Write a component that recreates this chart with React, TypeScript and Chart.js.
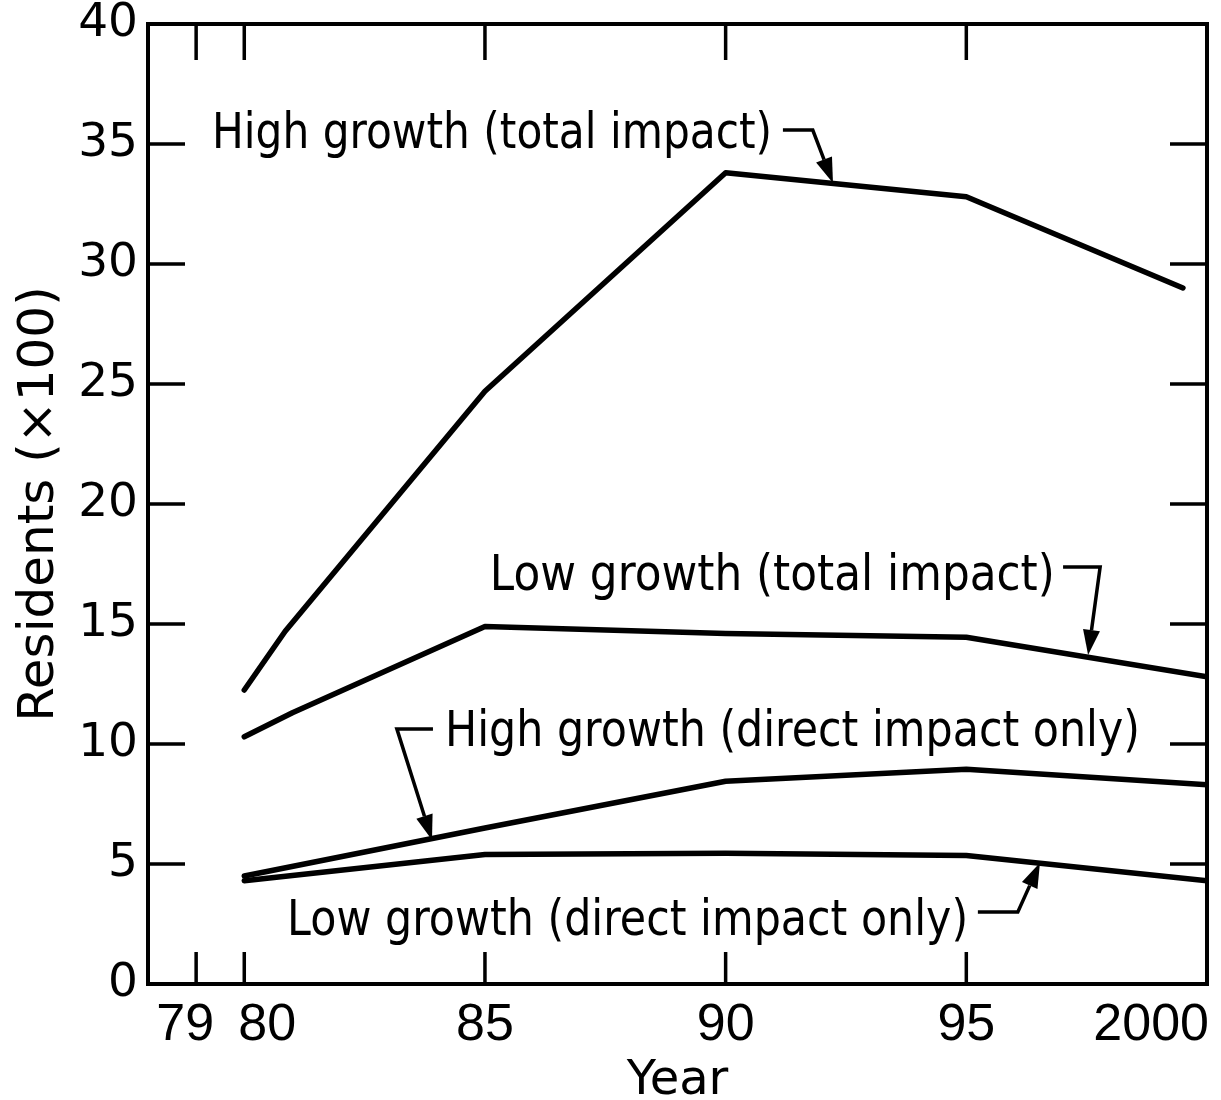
import React, { useEffect, useRef } from 'react';
import { Chart, registerables } from 'chart.js';

Chart.register(...registerables);

// ---- Data ----
const highTotalYears = [80, 80.85, 85, 90, 95, 99.5];
const highTotalValues = [12.25, 14.7, 24.7, 33.8, 32.8, 29.0];

const lowTotalYears = [80, 81, 85, 90, 95, 100];
const lowTotalValues = [10.3, 11.3, 14.9, 14.6, 14.45, 12.8];

const directYears = [80, 85, 90, 95, 100];
const highDirectValues = [4.5, 6.5, 8.45, 8.95, 8.3];
const lowDirectValues = [4.3, 5.4, 5.45, 5.35, 4.3];

const xTickValues = [79, 80, 85, 90, 95, 100];
const xTickLabels = ['79', '80', '85', '90', '95', '2000'];
const yTickValues = [5, 10, 15, 20, 25, 30, 35];

const seriesNames = [
  'High growth (total impact)',
  'Low growth (total impact)',
  'High growth (direct impact only)',
  'Low growth (direct impact only)',
];

// annotation label placement in data units (x = year, y = residents x100)
const annotations = [
  { text: seriesNames[0], x: 79.33, y: 34.83, width: 560, leader: [[91.19, 35.58], [91.81, 35.58], [92.23, 33.38]] },
  { text: seriesNames[1], x: 85.1, y: 16.42, width: 565, leader: [[97.01, 17.38], [97.78, 17.38], [97.53, 13.71]] },
  { text: seriesNames[2], x: 84.17, y: 9.92, width: 695, leader: [[83.92, 10.63], [83.17, 10.63], [83.9, 6.0]] },
  { text: seriesNames[3], x: 80.89, y: 2.04, width: 681, leader: [[95.24, 3.0], [96.07, 3.0], [96.53, 5.05]] },
];

const toPoints = (xs: number[], ys: number[]) => xs.map((x, i) => ({ x, y: ys[i] }));

const decorPlugin = {
  id: 'decor',
  afterDraw(chart: any) {
    const { ctx, chartArea: a, scales } = chart;
    const x = scales.x;
    const y = scales.y;
    ctx.save();
    ctx.strokeStyle = '#000';
    ctx.fillStyle = '#000';

    // frame
    ctx.lineWidth = 4;
    ctx.lineJoin = 'miter';
    ctx.strokeRect(a.left, a.top, a.right - a.left, a.bottom - a.top);

    // inward tick marks
    ctx.lineWidth = 3.5;
    ctx.lineCap = 'butt';
    ctx.beginPath();
    xTickValues.slice(0, 5).forEach((v) => {
      const px = x.getPixelForValue(v);
      ctx.moveTo(px, a.bottom);
      ctx.lineTo(px, a.bottom - 32);
      ctx.moveTo(px, a.top);
      ctx.lineTo(px, a.top + 36);
    });
    yTickValues.forEach((v) => {
      const py = y.getPixelForValue(v);
      ctx.moveTo(a.left, py);
      ctx.lineTo(a.left + 37, py);
      ctx.moveTo(a.right, py);
      ctx.lineTo(a.right - 37, py);
    });
    ctx.stroke();

    // x tick labels
    ctx.font = '52px "Liberation Sans", Arial, sans-serif';
    ctx.textBaseline = 'alphabetic';
    xTickValues.forEach((v, i) => {
      const px = x.getPixelForValue(v);
      const label = xTickLabels[i];
      let tx = px;
      if (label === '79') { ctx.textAlign = 'right'; tx = px + 18; }
      else if (label === '80') { ctx.textAlign = 'left'; tx = px - 6; }
      else if (label === '2000') { ctx.textAlign = 'right'; tx = px + 2; }
      else { ctx.textAlign = 'center'; }
      ctx.fillText(label, tx, a.bottom + 56);
    });

    // annotations
    annotations.forEach((an) => {
      ctx.font = '49px "DejaVu Sans", sans-serif';
      ctx.textAlign = 'left';
      ctx.textBaseline = 'alphabetic';
      const w = ctx.measureText(an.text).width;
      const s = an.width / w;
      ctx.save();
      ctx.translate(x.getPixelForValue(an.x), y.getPixelForValue(an.y));
      ctx.scale(s, 1);
      ctx.fillText(an.text, 0, 0);
      ctx.restore();

      const pts = an.leader.map(([lx, ly]) => [x.getPixelForValue(lx), y.getPixelForValue(ly)]);
      const tip = pts[pts.length - 1];
      const prev = pts[pts.length - 2];
      const dx = tip[0] - prev[0];
      const dy = tip[1] - prev[1];
      const len = Math.hypot(dx, dy);
      const ux = dx / len;
      const uy = dy / len;
      const headLen = 25;
      const headHalf = 8.5;
      const bx = tip[0] - ux * headLen;
      const by = tip[1] - uy * headLen;
      ctx.lineWidth = 3.5;
      ctx.lineJoin = 'miter';
      ctx.beginPath();
      ctx.moveTo(pts[0][0], pts[0][1]);
      for (let i = 1; i < pts.length - 1; i++) ctx.lineTo(pts[i][0], pts[i][1]);
      ctx.lineTo(bx, by);
      ctx.stroke();
      ctx.beginPath();
      ctx.moveTo(tip[0], tip[1]);
      ctx.lineTo(bx - uy * headHalf, by + ux * headHalf);
      ctx.lineTo(bx + uy * headHalf, by - ux * headHalf);
      ctx.closePath();
      ctx.fill();
    });
    ctx.restore();
  },
};

export default function App() {
  const ref = useRef<HTMLCanvasElement | null>(null);

  useEffect(() => {
    document.body.style.margin = '0';
    const canvas = ref.current;
    if (!canvas) return;
    const lineStyle = {
      borderColor: '#000',
      borderWidth: 5.5,
      pointRadius: 0,
      tension: 0,
      borderCapStyle: 'round' as const,
      borderJoinStyle: 'round' as const,
      fill: false,
    };
    const chart = new Chart(canvas, {
      type: 'line',
      data: {
        datasets: [
          { label: seriesNames[0], data: toPoints(highTotalYears, highTotalValues), ...lineStyle },
          { label: seriesNames[1], data: toPoints(lowTotalYears, lowTotalValues), ...lineStyle },
          { label: seriesNames[2], data: toPoints(directYears, highDirectValues), ...lineStyle },
          { label: seriesNames[3], data: toPoints(directYears, lowDirectValues), ...lineStyle },
        ],
      },
      options: {
        responsive: false,
        animation: false,
        devicePixelRatio: 1,
        layout: { padding: { left: 0, top: 24, right: 14, bottom: 0 } },
        plugins: {
          legend: { display: false },
          tooltip: { enabled: false },
          title: { display: false },
        },
        scales: {
          x: {
            type: 'linear',
            min: 78,
            max: 100,
            grid: { display: false, drawTicks: false },
            border: { display: false },
            ticks: { display: false },
            title: {
              display: true,
              text: 'Year',
              color: '#000',
              font: { family: '"DejaVu Sans", sans-serif', size: 48, lineHeight: 1 },
              padding: { top: 0, bottom: -6 },
            },
            afterFit: (scale: any) => { scale.height = 116; scale.paddingLeft = 0; scale.paddingRight = 0; },
          },
          y: {
            type: 'linear',
            min: 0,
            max: 40,
            grid: { display: false, drawTicks: false },
            border: { display: false },
            ticks: {
              stepSize: 5,
              color: '#000',
              padding: 10,
              font: { family: '"DejaVu Sans", sans-serif', size: 47, lineHeight: 1 },
            },
            title: {
              display: true,
              text: 'Residents (×100)',
              color: '#000',
              font: { family: '"DejaVu Sans", sans-serif', size: 50 },
              padding: { top: 10, bottom: 0 },
            },
            afterFit: (scale: any) => { scale.width = 148; scale.paddingTop = 0; scale.paddingBottom = 0; },
          },
        },
      },
      plugins: [decorPlugin],
    });
    return () => chart.destroy();
  }, []);

  return <canvas ref={ref} width={1221} height={1100} style={{ display: 'block', width: 1221, height: 1100 }} />;
}
